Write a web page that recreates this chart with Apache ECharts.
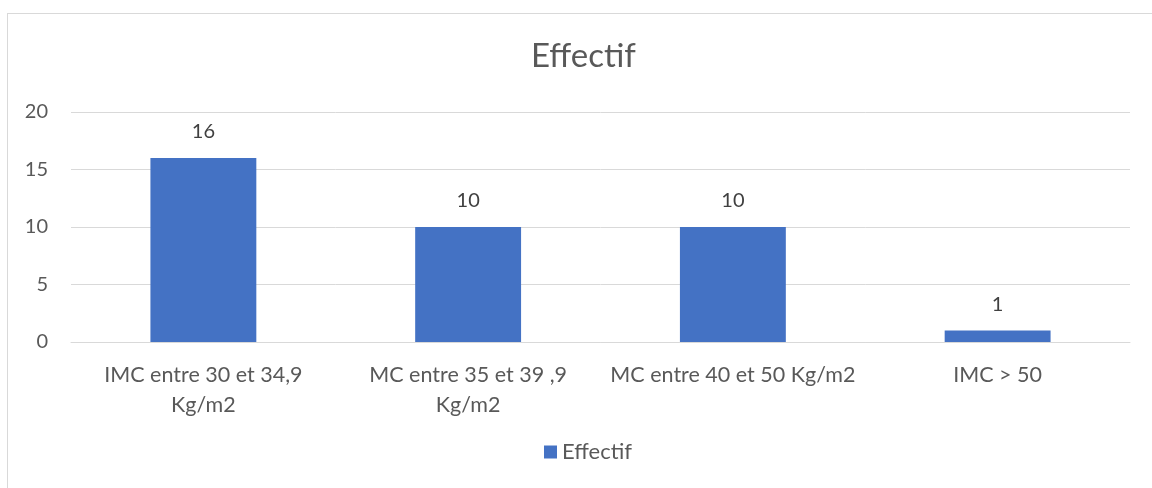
<!DOCTYPE html>
<html>
<head>
<meta charset="utf-8">
<script src="https://cdn.jsdelivr.net/npm/echarts@6/dist/echarts.min.js"></script>
<style>
  html, body { margin: 0; padding: 0; background: #fff; }
  #chart { width: 1152px; height: 488px; position: relative; }
  #frame { position: absolute; left: 7px; top: 13px; width: 1160px; height: 490px;
           border: 1px solid #d9d9d9; box-sizing: border-box; pointer-events: none; }
</style>
</head>
<body>
<div id="chart"></div>
<div id="frame"></div>
<script>
const categories = [
  'IMC entre 30 et 34,9\nKg/m2',
  'MC entre 35 et 39 ,9\nKg/m2',
  'MC entre 40 et 50 Kg/m2',
  'IMC > 50'
];
const effectif = [16, 10, 10, 1];
const seriesName = 'Effectif';
const yTicks = { min: 0, max: 20, interval: 5 };

const font = 'Lato, "Open Sans", sans-serif';
const chart = echarts.init(document.getElementById('chart'), null, { renderer: 'canvas' });
chart.setOption({
  animation: false,
  title: {
    text: 'Effectif',
    left: 526,
    top: 35,
    textStyle: { fontFamily: font, fontSize: 33, fontWeight: 'normal', color: '#595959' }
  },
  legend: {
    bottom: 20,
    left: 539,
    itemWidth: 13,
    itemHeight: 13,
    itemGap: 6,
    icon: 'rect',
    textStyle: { fontFamily: font, fontSize: 22, color: '#595959' }
  },
  grid: { left: 71, right: 22, top: 112, bottom: 146 },
  xAxis: {
    type: 'category',
    data: categories,
    axisLine: { lineStyle: { color: '#d9d9d9', width: 1 } },
    axisTick: { show: false },
    axisLabel: {
      interval: 0,
      margin: 18,
      fontFamily: font,
      fontSize: 21.5,
      color: '#595959',
      lineHeight: 30
    }
  },
  yAxis: {
    type: 'value',
    min: yTicks.min,
    max: yTicks.max,
    interval: yTicks.interval,
    axisLine: { show: false },
    axisTick: { show: false },
    splitLine: { lineStyle: { color: '#d9d9d9', width: 1 } },
    axisLabel: { fontFamily: font, fontSize: 20, color: '#595959', margin: 23 }
  },
  series: [{
    name: seriesName,
    type: 'bar',
    data: effectif,
    barWidth: '40%',
    itemStyle: { color: '#4472c4' },
    label: {
      show: true,
      position: 'top',
      distance: 16,
      fontFamily: font,
      fontSize: 20,
      color: '#404040'
    }
  }]
});
</script>
</body>
</html>
